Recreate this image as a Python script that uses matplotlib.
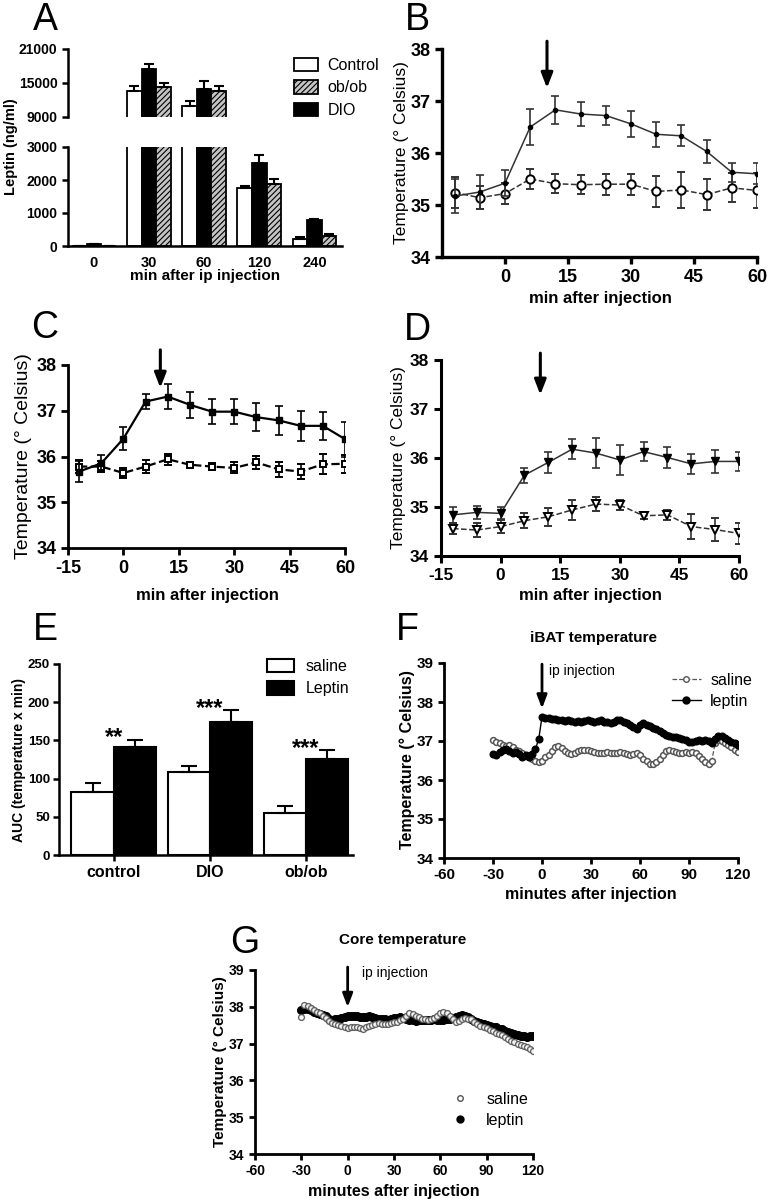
import numpy as np
import matplotlib
matplotlib.use('Agg')
import matplotlib.pyplot as plt
from matplotlib.patches import Patch
from matplotlib.lines import Line2D

plt.rcParams['font.family'] = ['Liberation Sans', 'DejaVu Sans']
plt.rcParams['hatch.color'] = '#7a7a7a'
plt.rcParams['hatch.linewidth'] = 0.8
plt.rcParams['axes.unicode_minus'] = False

# ---------------- data ----------------
# Panel A
a_cats = ['0', '30', '60', '120', '240']
a_control = [10, 13600, 10950, 1760, 200]
a_control_err = [5, 900, 950, 60, 70]
a_dio = [50, 17500, 14000, 2530, 800]
a_dio_err = [10, 900, 1400, 220, 30]
a_obob = [5, 14300, 13550, 1890, 290]
a_obob_err = [3, 700, 850, 150, 80]

# Panels B, C, D (time points, minutes)
t_pts = [-12, -6, 0, 6, 12, 18, 24, 30, 36, 42, 48, 54, 60]
b_leptin = [35.17, 35.25, 35.42, 36.50, 36.83, 36.75, 36.72, 36.56, 36.36, 36.33, 36.03, 35.63, 35.60]
b_leptin_err = [0.33, 0.33, 0.25, 0.35, 0.27, 0.23, 0.18, 0.25, 0.24, 0.20, 0.22, 0.18, 0.20]
b_saline = [35.24, 35.14, 35.22, 35.50, 35.41, 35.39, 35.40, 35.40, 35.26, 35.29, 35.20, 35.33, 35.28]
b_saline_err = [0.30, 0.22, 0.20, 0.20, 0.18, 0.18, 0.20, 0.20, 0.29, 0.35, 0.30, 0.28, 0.33]

c_leptin = [35.67, 35.85, 36.39, 37.20, 37.31, 37.13, 36.98, 36.98, 36.86, 36.79, 36.67, 36.67, 36.38]
c_leptin_err = [0.23, 0.18, 0.25, 0.17, 0.27, 0.28, 0.28, 0.27, 0.30, 0.31, 0.33, 0.30, 0.38]
c_saline = [35.78, 35.78, 35.64, 35.78, 35.94, 35.82, 35.78, 35.75, 35.87, 35.72, 35.67, 35.83, 35.84]
c_saline_err = [0.15, 0.12, 0.10, 0.15, 0.12, 0.05, 0.08, 0.12, 0.15, 0.16, 0.16, 0.22, 0.20]

d_leptin = [34.84, 34.89, 34.87, 35.65, 35.91, 36.18, 36.10, 35.96, 36.13, 36.01, 35.88, 35.93, 35.93]
d_leptin_err = [0.17, 0.13, 0.12, 0.15, 0.22, 0.20, 0.30, 0.31, 0.20, 0.22, 0.20, 0.24, 0.20]
d_saline = [34.56, 34.53, 34.60, 34.72, 34.80, 34.94, 35.06, 35.04, 34.82, 34.84, 34.60, 34.54, 34.46]
d_saline_err = [0.12, 0.14, 0.14, 0.15, 0.18, 0.20, 0.15, 0.10, 0.07, 0.10, 0.25, 0.24, 0.21]

# Panel E
e_groups = ['control', 'DIO', 'ob/ob']
e_saline = [82, 108, 55.5]
e_saline_err = [12, 9, 9]
e_leptin = [141, 174.5, 125.5]
e_leptin_err = [10, 15, 11.5]
e_stars = ['**', '***', '***']

# Panels F, G: recordings every 2 min from -30 to 120
t_rec = np.arange(-30, 121, 2)
f_leptin = [36.67, 36.64, 36.72, 36.78, 36.80, 36.74, 36.68, 36.72, 36.66, 36.60,
            36.64, 36.58, 36.66, 36.80, 37.05, 37.62, 37.60, 37.58, 37.57, 37.56,
            37.55, 37.54, 37.52, 37.53, 37.51, 37.50, 37.51, 37.50, 37.52, 37.53,
            37.52, 37.50, 37.52, 37.53, 37.50, 37.48, 37.47, 37.50, 37.53, 37.55,
            37.50, 37.47, 37.42, 37.35, 37.32, 37.40, 37.46, 37.42, 37.38, 37.33,
            37.30, 37.25, 37.20, 37.15, 37.12, 37.10, 37.10, 37.08, 37.05, 37.03,
            36.97, 36.98, 37.00, 37.02, 37.00, 37.03, 37.00, 36.95, 37.05, 37.13,
            37.12, 37.08, 37.03, 36.98, 36.94, 36.90]
f_saline = [37.02, 36.98, 36.95, 36.90, 36.88, 36.90, 36.85, 36.78, 36.75, 36.68,
            36.62, 36.60, 36.55, 36.50, 36.45, 36.50, 36.58, 36.65, 36.75, 36.85,
            36.88, 36.82, 36.75, 36.70, 36.67, 36.70, 36.75, 36.78, 36.76, 36.78,
            36.75, 36.72, 36.70, 36.68, 36.70, 36.72, 36.70, 36.68, 36.70, 36.72,
            36.70, 36.67, 36.65, 36.66, 36.68, 36.65, 36.55, 36.48, 36.42, 36.40,
            36.45, 36.55, 36.65, 36.75, 36.78, 36.75, 36.72, 36.68, 36.70, 36.72,
            36.70, 36.72, 36.68, 36.62, 36.55, 36.47, 36.42, 36.50, 36.95, 37.02,
            37.00, 36.95, 36.90, 36.85, 36.78, 36.72]
g_leptin = [37.90, 37.95, 37.93, 37.90, 37.87, 37.83, 37.80, 37.78, 37.74, 37.68,
            37.65, 37.66, 37.68, 37.70, 37.72, 37.74, 37.76, 37.75, 37.74, 37.72,
            37.71, 37.73, 37.74, 37.72, 37.70, 37.68, 37.67, 37.66, 37.65, 37.67,
            37.69, 37.70, 37.72, 37.70, 37.68, 37.65, 37.63, 37.62, 37.63, 37.65,
            37.64, 37.63, 37.65, 37.66, 37.64, 37.63, 37.65, 37.67, 37.68, 37.70,
            37.72, 37.75, 37.77, 37.76, 37.72, 37.66, 37.62, 37.60, 37.57, 37.54,
            37.50, 37.48, 37.46, 37.44, 37.41, 37.39, 37.35, 37.32, 37.28, 37.25,
            37.23, 37.21, 37.20, 37.19, 37.20, 37.22]
g_saline = [37.72, 38.05, 38.02, 37.97, 37.92, 37.87, 37.82, 37.76, 37.70, 37.62,
            37.56, 37.53, 37.50, 37.48, 37.45, 37.42, 37.44, 37.46, 37.45, 37.42,
            37.41, 37.44, 37.48, 37.50, 37.53, 37.55, 37.54, 37.52, 37.54, 37.56,
            37.58, 37.60, 37.63, 37.68, 37.76, 37.82, 37.80, 37.76, 37.72, 37.68,
            37.66, 37.65, 37.67, 37.70, 37.76, 37.82, 37.86, 37.83, 37.76, 37.66,
            37.60, 37.62, 37.66, 37.70, 37.68, 37.66, 37.60, 37.53, 37.48, 37.45,
            37.42, 37.38, 37.34, 37.30, 37.26, 37.23, 37.18, 37.12, 37.08, 37.04,
            36.98, 36.95, 36.93, 36.90, 36.85, 36.80]

# ---------------- figure ----------------
W, H = 767, 1199
fig = plt.figure(figsize=(W / 100, H / 100), dpi=100)


def rect(x0, y0, x1, y1):
    return [x0 / W, 1 - y1 / H, (x1 - x0) / W, (y1 - y0) / H]


def fxy(px, py):
    return px / W, 1 - py / H


def style(ax, lw=2.0, tl=4):
    for s in ['top', 'right']:
        ax.spines[s].set_visible(False)
    for s in ['left', 'bottom']:
        ax.spines[s].set_linewidth(lw)
    ax.tick_params(direction='out', width=lw, length=tl)


def letter(px, py, s):
    fig.text(*fxy(px, py), s, fontsize=27, ha='left', va='top')


def set_labels(ax, xl, yl, xlpos, ylpos, xfs, yfs, xw='bold', yw='bold'):
    if xl:
        ax.set_xlabel(xl, fontsize=xfs, fontweight=xw)
        ax.xaxis.set_label_coords(*fxy(*xlpos), transform=fig.transFigure)
    ax.set_ylabel(yl, fontsize=yfs, fontweight=yw)
    ax.yaxis.set_label_coords(*fxy(*ylpos), transform=fig.transFigure)


# ---------- Panel A (broken axis) ----------
xa = np.arange(len(a_cats))
bw = 0.265
axA_top = fig.add_axes(rect(68, 49, 342, 117))
axA_bot = fig.add_axes(rect(68, 147, 342, 246))
for ax in (axA_top, axA_bot):
    series = [(a_control, a_control_err, dict(color='white'), -bw),
              (a_dio, a_dio_err, dict(color='black'), 0),
              (a_obob, a_obob_err, dict(color='#c4c4c4', hatch='//////'), bw)]
    for vals, err, kw, off in series:
        ax.bar(xa + off, vals, bw, edgecolor='black', linewidth=1.3, **kw)
        ax.errorbar(xa + off, vals, yerr=[np.zeros(len(vals)), err], fmt='none',
                    ecolor='black', elinewidth=1.5, capsize=3.5, capthick=1.5)
    style(ax, lw=1.8)
    ax.set_xlim(-0.47, 4.5)
    ax.tick_params(axis='y', labelsize=10)
axA_top.set_ylim(9000, 21000)
axA_top.set_yticks([9000, 15000, 21000])
axA_top.spines['bottom'].set_visible(False)
axA_top.set_xticks([])
axA_bot.set_ylim(0, 3000)
axA_bot.set_yticks([0, 1000, 2000, 3000])
axA_bot.set_xticks(xa)
axA_bot.set_xticklabels(a_cats, fontsize=10.5, fontweight='bold')
axA_bot.tick_params(axis='x', length=0, pad=7)
for ax in (axA_top, axA_bot):
    for lab in ax.get_yticklabels():
        lab.set_fontweight('bold')
axA_bot.set_xlabel('min after ip injection', fontsize=11, fontweight='bold')
axA_bot.xaxis.set_label_coords(*fxy(205, 269), transform=fig.transFigure)
fig.text(*fxy(11, 147), 'Leptin (ng/ml)', rotation=90, fontsize=10.5,
         fontweight='bold', ha='center', va='center')
handlesA = [Patch(facecolor='white', edgecolor='black', linewidth=1.3),
            Patch(facecolor='#c4c4c4', edgecolor='black', hatch='//////', linewidth=1.3),
            Patch(facecolor='black', edgecolor='black', linewidth=1.3)]
axA_top.legend(handlesA, ['Control', 'ob/ob', 'DIO'], loc='upper left',
               bbox_to_anchor=fxy(286, 50), bbox_transform=fig.transFigure,
               frameon=False, fontsize=11.5, handlelength=1.5, handleheight=0.9,
               labelspacing=0.45, handletextpad=0.6, borderpad=0)
letter(33, 2, 'A')


# ---------- Panels B, C, D ----------
def temp_panel(r, lep, lep_err, sal, sal_err, mk_l, mk_s, ms_l, ms_s, lw_line,
               col, xticks, arrow, tick_fs, spine_lw):
    ax = fig.add_axes(rect(*r))
    ax.errorbar(t_pts, sal, yerr=sal_err, fmt='--', color=col, lw=lw_line,
                elinewidth=1.2, capsize=3, capthick=1.2, marker=mk_s, ms=ms_s,
                mfc='white', mec='black', mew=1.4, zorder=3)
    ax.errorbar(t_pts, lep, yerr=lep_err, fmt='-', color=col, lw=lw_line,
                elinewidth=1.2, capsize=3, capthick=1.2, marker=mk_l, ms=ms_l,
                mfc='black', mec='black', zorder=4)
    style(ax, lw=spine_lw, tl=5)
    ax.set_xlim(-15, 60)
    ax.set_ylim(34, 38)
    ax.set_xticks(xticks)
    ax.set_yticks([34, 35, 36, 37, 38])
    ax.tick_params(labelsize=tick_fs)
    for lab in ax.get_xticklabels() + ax.get_yticklabels():
        lab.set_fontweight('bold')
    ax.annotate('', xy=(10, arrow[1]), xytext=(10, arrow[0]),
                arrowprops=dict(arrowstyle='-|>,head_width=0.35,head_length=0.9',
                                lw=2.2, color='black', shrinkA=0, shrinkB=0),
                annotation_clip=False)
    return ax


axB = temp_panel((442, 49, 757, 257), b_leptin, b_leptin_err, b_saline, b_saline_err,
                 'o', 'o', 3, 6, 1.1, '#333333', [0, 15, 30, 45, 60], (38.15, 37.25),
                 13, 2.4)
set_labels(axB, 'min after injection', 'Temperature (° Celsius)', (600, 291), (409, 153),
           12, 12.5, yw='normal')
letter(405, 2, 'B')

axC = temp_panel((68, 365, 345, 548), c_leptin, c_leptin_err, c_saline, c_saline_err,
                 's', 's', 4.5, 4, 1.6, 'black', [-15, 0, 15, 30, 45, 60], (38.33, 37.5),
                 13, 2.0)
set_labels(axC, 'min after injection', 'Temperature (° Celsius)', (207, 588), (32, 456),
           12, 14, yw='normal')
letter(31, 310, 'C')

axD = temp_panel((441, 360, 739, 556), d_leptin, d_leptin_err, d_saline, d_saline_err,
                 'v', 'v', 6, 6, 1.1, '#333333', [-15, 0, 15, 30, 45, 60], (38.14, 37.29),
                 12.5, 2.2)
set_labels(axD, 'min after injection', 'Temperature (° Celsius)', (590, 588), (406, 458),
           12, 12.5, yw='normal')
letter(404, 312, 'D')

# ---------- Panel E ----------
axE = fig.add_axes(rect(59, 664, 353, 855))
xe = np.arange(len(e_groups))
ebw = 0.44
axE.bar(xe - ebw / 2, e_saline, ebw, color='white', edgecolor='black', linewidth=1.5)
axE.errorbar(xe - ebw / 2, e_saline, yerr=[np.zeros(3), e_saline_err], fmt='none',
             ecolor='black', elinewidth=1.5, capsize=6, capthick=1.5)
axE.bar(xe + ebw / 2, e_leptin, ebw, color='black', edgecolor='black', linewidth=1.5)
axE.errorbar(xe + ebw / 2, e_leptin, yerr=[np.zeros(3), e_leptin_err], fmt='none',
             ecolor='black', elinewidth=1.5, capsize=6, capthick=1.5)
for i, s in enumerate(e_stars):
    axE.text(xe[i], e_leptin[i] + e_leptin_err[i] - 6, s,
             ha='center', va='baseline', fontsize=17, fontweight='bold')
style(axE, lw=1.8, tl=4)
axE.set_xlim(-0.57, 2.49)
axE.set_ylim(0, 250)
axE.set_yticks([0, 50, 100, 150, 200, 250])
axE.set_xticks(xe)
axE.set_xticklabels(e_groups, fontsize=11.5, fontweight='bold')
axE.tick_params(axis='y', labelsize=9.5, pad=2.5)
for lab in axE.get_yticklabels():
    lab.set_fontweight('bold')
axE.set_ylabel('AUC (temperature x min)', fontsize=10, fontweight='bold')
axE.yaxis.set_label_coords(*fxy(26, 760), transform=fig.transFigure)
axE.legend([Patch(facecolor='white', edgecolor='black', linewidth=1.5),
            Patch(facecolor='black', edgecolor='black', linewidth=1.5)],
           ['saline', 'Leptin'], loc='upper left', bbox_to_anchor=fxy(259, 651),
           bbox_transform=fig.transFigure, frameon=False, fontsize=11.5,
           handlelength=1.7, handleheight=0.9, labelspacing=0.45, handletextpad=0.7,
           borderpad=0)
letter(33, 612, 'E')


# ---------- Panels F, G ----------
def rec_panel(r, title, tpos, arrow, txtpos, tick_fs):
    ax = fig.add_axes(rect(*r))
    style(ax, lw=2.0, tl=4)
    ax.set_xlim(-60, 120)
    ax.set_ylim(34, 39)
    ax.set_xticks([-60, -30, 0, 30, 60, 90, 120])
    ax.set_yticks([34, 35, 36, 37, 38, 39])
    ax.tick_params(labelsize=tick_fs)
    for lab in ax.get_xticklabels() + ax.get_yticklabels():
        lab.set_fontweight('bold')
    fig.text(*fxy(*tpos), title, fontsize=11, fontweight='bold', ha='center', va='center')
    ax.annotate('', xy=(0, arrow[1]), xytext=(0, arrow[0]),
                arrowprops=dict(arrowstyle='-|>,head_width=0.3,head_length=0.8',
                                lw=2.0, color='black', shrinkA=0, shrinkB=0),
                annotation_clip=False)
    ax.text(txtpos[0], txtpos[1], 'ip injection', fontsize=10, ha='left', va='center')
    return ax


axF = rec_panel((444, 663, 738, 858), 'iBAT temperature', (593, 638), (38.97, 37.83),
                (4.0, 38.8), 11)
axF.plot(t_rec, f_saline, '--', color='#555555', lw=0.9, marker='o', ms=4.2,
         mfc='white', mec='#555555', mew=1.1, zorder=3)
axF.plot(t_rec, f_leptin, '-', color='black', lw=1.0, marker='o', ms=4.8,
         mfc='black', mec='black', zorder=4)
set_labels(axF, 'minutes after injection', 'Temperature (° Celsius)', (591, 887),
           (415, 760), 11.5, 11.5)
axF.legend([Line2D([], [], ls='--', color='#555555', lw=0.9, marker='o', ms=4,
                   mfc='white', mec='#555555'),
            Line2D([], [], ls='-', color='black', lw=1.0, marker='o', ms=5, mfc='black')],
           ['saline', 'leptin'], loc='upper left', bbox_to_anchor=fxy(664, 665),
           bbox_transform=fig.transFigure, frameon=False, fontsize=11.5,
           handlelength=1.8, labelspacing=0.35, handletextpad=0.6, borderpad=0)
letter(396, 612, 'F')

axG = rec_panel((255, 970, 533, 1154), 'Core temperature', (403, 940), (39.08, 37.99),
                (9.0, 38.92), 10)
axG.plot(t_rec, g_leptin, ls='none', marker='o', ms=5.5, mfc='black', mec='black', zorder=3)
axG.plot(t_rec, g_saline, ls='none', marker='o', ms=4.2, mfc='white', mec='#555555',
         mew=1.0, alpha=0.9, zorder=4)
set_labels(axG, 'minutes after injection', 'Temperature (° Celsius)', (394, 1184),
           (227, 1062), 11.5, 11)
axG.legend([Line2D([], [], ls='none', marker='o', ms=4, mfc='white', mec='#555555'),
            Line2D([], [], ls='none', marker='o', ms=5, mfc='black', mec='black')],
           ['saline', 'leptin'], loc='upper left', bbox_to_anchor=fxy(440, 1084),
           bbox_transform=fig.transFigure, frameon=False, fontsize=11.5,
           handlelength=1.5, labelspacing=0.35, handletextpad=0.9, borderpad=0)
letter(230, 925, 'G')

fig.savefig('out.png', dpi=100)
